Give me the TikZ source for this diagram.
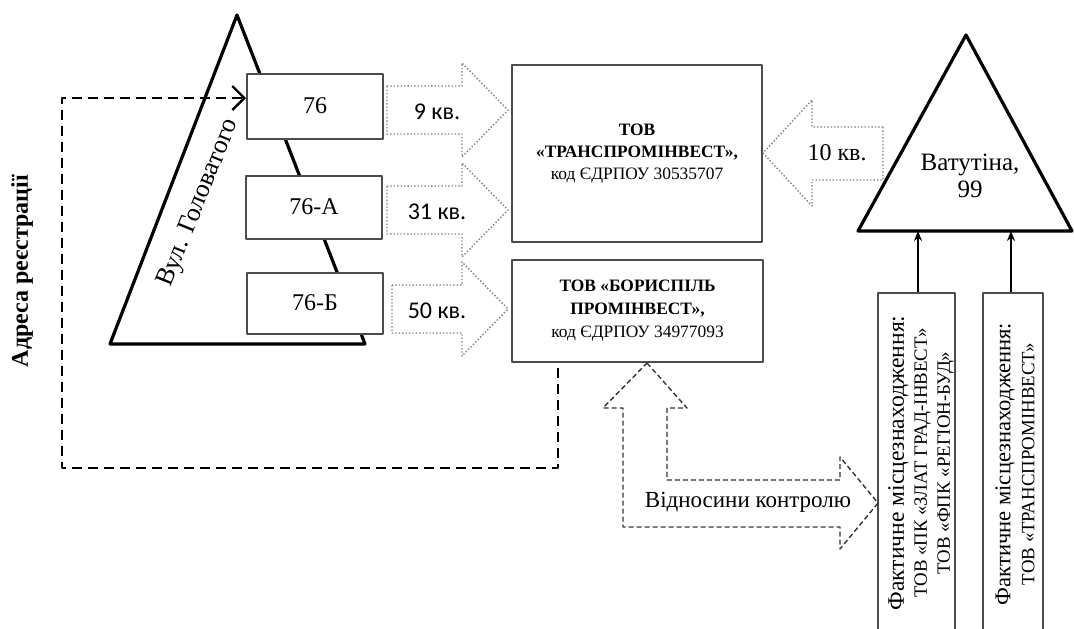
\documentclass[tikz,border=0pt]{standalone}
\usepackage{fontspec}
\setmainfont{Liberation Serif}
\newfontfamily\timesfont{Liberation Serif}
\newfontfamily\calibri{Carlito}
\usetikzlibrary{arrows.meta}

\begin{document}
\begin{tikzpicture}[x=0.5pt,y=-0.5pt,line join=round,
  box/.style={draw=black!70,line width=1pt,fill=white,inner sep=0pt,align=center},
  kvarrow/.style={draw=black!50,densely dotted,line width=0.7pt},
  ctrlarrow/.style={draw=black!80,dash pattern=on 2.5pt off 1.5pt,line width=0.7pt},
  regline/.style={dash pattern=on 5pt off 3pt,line width=1.4pt},
  tri/.style={line width=1.6pt}]
\useasboundingbox (0,0) rectangle (1074,628);

% street triangle
\coordinate (gt) at (237,15);
\coordinate (gl) at (110,344);
\coordinate (gr) at (365,344);
\draw[tri] (gt) -- (gl) -- (gr) -- cycle;
\node[rotate=68,font=\timesfont\fontsize{13}{15}\selectfont] (golov) at (199,203) {Вул. Головатого};

% houses
\node[box,minimum width=68pt,minimum height=32.5pt,font=\timesfont\fontsize{12}{14}\selectfont] (b76) at (315,106) {76};
\node[box,minimum width=68pt,minimum height=31.5pt,font=\timesfont\fontsize{12}{14}\selectfont] (b76a) at (314,207) {76-А};
\node[box,minimum width=68pt,minimum height=30.5pt,font=\timesfont\fontsize{12}{14}\selectfont] (b76b) at (315,303) {76-Б};

% companies
\node[box,minimum width=125pt,minimum height=88.5pt,font=\timesfont\fontsize{8.7}{11}\selectfont] (trans) at (637,153.5)
  {\textbf{ТОВ}\\\textbf{«ТРАНСПРОМІНВЕСТ»,}\\код ЄДРПОУ 30535707};
\node[box,minimum width=125.5pt,minimum height=51pt,font=\timesfont\fontsize{8.7}{11.5}\selectfont] (bor) at (637.5,311)
  {\textbf{ТОВ «БОРИСПІЛЬ}\\\textbf{ПРОМІНВЕСТ»,}\\код ЄДРПОУ 34977093};

% flats
\foreach \xl/\yc/\lab in {387/110/9 кв.,387/210/31 кв.,392/309/50 кв.} {
  \draw[kvarrow] (\xl,\yc-24) -- (462,\yc-24) -- (462,\yc-47) -- (508,\yc) -- (462,\yc+47)
    -- (462,\yc+24) -- (\xl,\yc+24) -- cycle;
  \node[font=\calibri\fontsize{12}{14}\selectfont] (kv\yc) at (437,\yc+2) {\lab};
}
\draw[kvarrow] (883,127) -- (812,127) -- (812,100) -- (763,153) -- (812,206) -- (812,180) -- (883,180) -- cycle;
\node[font=\timesfont\fontsize{12}{14}\selectfont] (kv10) at (837,153) {10 кв.};

% Vatutina triangle
\coordinate (vt) at (966,35);
\coordinate (vl) at (858,231);
\coordinate (vr) at (1072,231);
\draw[tri] (vt) -- (vl) -- (vr) -- cycle;
\node[align=center,font=\timesfont\fontsize{12.5}{13.5}\selectfont] (vat) at (970,176) {Ватутіна,\\99};

% actual locations
\coordinate (f1top) at (918,293);
\coordinate (f2top) at (1011,293);
\draw[-{Stealth[length=5pt,width=4pt]},line width=0.8pt] (f1top) -- (f1top |- vl);
\draw[-{Stealth[length=5pt,width=4pt]},line width=0.8pt] (f2top) -- (f2top |- vl);
\draw[draw=black!70,line width=1pt] (878,634) -- (878,293) -- (955,293) -- (955,634);
\draw[draw=black!70,line width=1pt] (983,634) -- (983,293) -- (1043,293) -- (1043,634);
\node[rotate=90,align=center,font=\timesfont\fontsize{9.4}{11.5}\selectfont] (fakt1) at (921,463)
  {{\fontsize{11.8}{11.5}\selectfont Фактичне місцезнаходження:}\\ТОВ «ПК «ЗЛАТ ГРАД-ІНВЕСТ»\\ТОВ «ФПК «РЕГІОН-БУД»};
\node[rotate=90,align=center,font=\timesfont\fontsize{9.4}{12}\selectfont] (fakt2) at (1015,464)
  {{\fontsize{11.3}{12}\selectfont Фактичне місцезнаходження:}\\ТОВ «ТРАНСПРОМІНВЕСТ»};

% control
\draw[ctrlarrow] (647,363) -- (687,408) -- (667,408) -- (667,480) -- (840,480) -- (840,457) -- (878,503)
  -- (840,549) -- (840,527) -- (623,527) -- (623,408) -- (603,408) -- cycle;
\node[font=\timesfont\fontsize{11.5}{14}\selectfont] (ctrl) at (748,502) {Відносини контролю};

% registration
\coordinate (regstart) at (558,368);
\coordinate (regcorner) at (62,468);
\draw[regline,-{Straight Barb[length=6pt,width=12pt,line width=1.2pt]}] (regstart) |- (regcorner) |- ([yshift=4pt]b76.west);
\node[rotate=90,font=\timesfont\bfseries\fontsize{12}{14}\selectfont] (reg) at (22,271) {Адреса реєстрації};
\end{tikzpicture}
\end{document}
